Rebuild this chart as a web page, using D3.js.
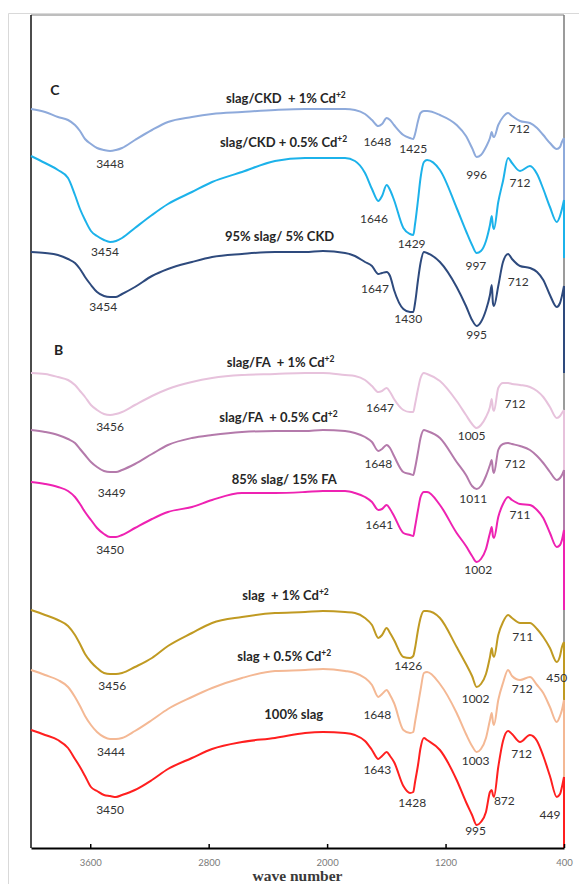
<!DOCTYPE html>
<html><head><meta charset="utf-8">
<script src="https://cdn.jsdelivr.net/npm/d3@7"></script>
<style>html,body{margin:0;padding:0;background:#fff;} svg{display:block;} text{white-space:pre;}</style>
</head><body>
<svg id="chart" width="579" height="884"></svg>
<script>
// ---- DATA (wavenumber grid, cm-1) ----
const waveNumbers = [4000,3905,3818,3750,3703,3669,3635,3595,3554,3507,
  3466,3426,3385,3298,3183,3075,2913,2777,2575,2352,
  2149,2028,1879,1812,1744,1697,1654,1629,1598,1575,
  1548,1485,1440,1418,1406,1386,1369,1346,1325,1238,
  1125,1062,1021,990,961,927,900,888,880,873,
  844,812,778,751,697,630,582,540,495,449,
  427,414,400];

// stacked transmittance (arbitrary units, offset per spectrum)
const slagCKD_1Cd = [739,736,731,728,723,717,709,704,700,698,
  697,698,700,708,718,726,731,734,736,738,
  739,739,739,738,734,728,722,724,730,728,
  723,713,710,709,714,727,735,737,737,733,
  723,712,700,691,693,701,710,716,712,711,
  723,731,735,732,727,725,720,713,705,699,
  701,706,710];
const slagCKD_05Cd = [692,685,678,670,653,639,628,617,612,608,
  606,607,610,620,633,644,656,666,676,687,
  690,690,690,687,675,659,647,652,663,658,
  648,620,614,613,624,648,670,686,688,678,
  640,617,603,595,597,607,623,632,622,619,
  646,667,690,685,677,682,674,659,641,626,
  632,639,648];
const slag95_CKD5 = [596,595,593,589,585,579,571,563,556,552,
  551,551,554,561,572,579,586,591,594,596,
  596,597,595,592,586,582,574,575,576,572,
  558,539,536,536,545,568,585,596,595,586,
  561,542,528,522,526,538,553,563,545,542,
  562,586,594,589,582,580,576,568,553,541,
  545,552,562];
const slagFA_1Cd = [475,474,471,468,463,457,451,443,438,434,
  433,434,436,443,452,459,466,470,473,474,
  475,475,473,472,468,462,456,457,460,456,
  449,438,436,436,444,459,470,475,474,467,
  447,433,424,420,423,431,441,449,439,437,
  460,465,465,464,463,461,457,451,441,430,
  432,435,438];
const slagFA_05Cd = [418,416,413,409,405,399,393,386,381,377,
  376,376,378,384,394,403,410,413,416,417,
  417,418,417,415,411,406,397,399,403,400,
  392,376,374,373,380,396,410,418,417,410,
  386,373,362,359,362,372,383,388,378,375,
  398,404,405,404,402,398,392,385,376,368,
  370,373,378];
const slag85_FA15 = [366,364,361,357,351,344,336,328,320,314,
  311,311,313,320,329,336,341,348,355,355,
  356,357,357,355,351,346,338,339,343,339,
  332,315,313,312,321,338,351,356,356,343,
  315,302,292,286,289,299,315,321,312,310,
  331,344,351,348,344,343,338,330,315,301,
  303,308,318];
const slag_1Cd = [238,233,228,222,213,204,194,186,180,175,
  174,174,175,181,190,202,215,225,231,235,
  236,237,236,235,230,223,210,213,220,215,
  208,191,190,192,200,218,230,237,237,230,
  201,184,172,161,164,174,191,200,193,191,
  213,226,233,230,225,225,219,211,200,186,
  192,201,206];
const slag_05Cd = [178,173,168,161,151,142,132,123,116,111,
  109,109,110,117,128,139,151,160,170,177,
  178,179,177,175,170,163,151,154,158,153,
  145,118,115,116,126,143,158,175,176,164,
  135,114,102,96,99,110,128,135,126,123,
  148,165,178,172,168,171,163,155,141,126,
  132,138,148];
const slag100 = [118,113,108,100,89,81,72,61,57,53,
  52,51,53,58,68,79,90,99,106,110,
  115,116,115,113,107,98,89,92,96,92,
  86,62,55,56,66,83,100,110,108,98,
  68,46,33,23,26,36,56,58,53,51,
  81,107,117,114,106,113,107,92,72,51,
  54,61,71];
// level each trace falls to at the 400 cm-1 end
const endDrop = [648, 590, 475, 378, 318, 238, 125, 71, 0];

const seriesNames = ["slag/CKD  + 1% Cd", "slag/CKD + 0.5% Cd", "95% slag/ 5% CKD",
  "slag/FA  + 1% Cd", "slag/FA  + 0.5% Cd", "85% slag/ 15% FA",
  "slag  + 1% Cd", "slag + 0.5% Cd", "100% slag"];
const seriesSup = ["+2", "+2", "", "+2", "+2", "", "+2", "+2", ""];
const seriesValues = [slagCKD_1Cd, slagCKD_05Cd, slag95_CKD5, slagFA_1Cd, slagFA_05Cd, slag85_FA15, slag_1Cd, slag_05Cd, slag100];
const seriesColors = ["#8eaadb", "#1cb2ea", "#2e4a7d", "#e7c2dc", "#b47aab", "#ee22b2", "#c09a22", "#f4b894", "#ff1f1f"];

// title anchor (wavenumber of left end, baseline level in a.u.)
const titleW = [2683, 2724, 2690, 2678, 2728, 2644, 2573, 2607, 2424];
const titleV = [745, 701, 607, 481, 426, 364, 248, 187, 129];

// peak annotations: [series index, label, wavenumber position, level]
const peakLabels = [
  [0,"3448",3466,684.7],[0,"1648",1661,706.3],[0,"1425",1418,699.7],[0,"996",990,673.7],[0,"712",702,719],
  [1,"3454",3500,596.3],[1,"1646",1683,629.7],[1,"1429",1429,604.7],[1,"997",995,582],[1,"712",697,665.7],
  [2,"3454",3512,541.3],[2,"1647",1677,559.7],[2,"1430",1452,529.7],[2,"995",990,513],[2,"712",709,566.3],
  [3,"3456",3466,421.3],[3,"1647",1643,440.7],[3,"1005",1024,412],[3,"712",731,444],
  [4,"3449",3455,355.3],[4,"1648",1654,384],[4,"1011",1013,349.7],[4,"712",731,384],
  [5,"3450",3466,298],[5,"1641",1648,323],[5,"1002",979,278],[5,"711",697,333],
  [6,"3456",3451,162],[6,"1426",1452,182],[6,"1002",997,149.7],[6,"711",679,211.3],[6,"450",449,170.7],
  [7,"3444",3460,96.3],[7,"1648",1661,133],[7,"1003",997,87.3],[7,"712",682,159.7],
  [8,"3450",3466,38],[8,"1643",1661,78],[8,"1428",1425,45.3],[8,"995",997,17.3],[8,"872",803,47.3],[8,"712",686,94.7],[8,"449",495,33]
];
const panelLetters = [["C",3838,758],["B",3813,498]];
const xTicks = [3600, 2800, 2000, 1200, 400];
const xTitle = "wave number";

seriesValues.forEach((s,i)=>{ if (s.length !== waveNumbers.length) throw new Error("length mismatch series "+i+": "+s.length); });

// ---- DRAW ----
const svg = d3.select("#chart");
const x = d3.scaleLinear().domain([4000, 400]).range([31, 564]);
const y = d3.scaleLinear().domain([0, 833]).range([848, 15]);

// outer frame
svg.append("path").attr("d","M8.5,884V13.5H579").attr("fill","none").attr("stroke","#d9d9d9").attr("stroke-width",1);
// plot border
svg.append("line").attr("x1",x(4000)).attr("x2",x(400)).attr("y1",y(833)).attr("y2",y(833)).attr("stroke","#7f7f7f").attr("stroke-width",1.2);
svg.append("line").attr("x1",x(400)).attr("x2",x(400)).attr("y1",y(833)).attr("y2",y(0)).attr("stroke","#7a7a7a").attr("stroke-width",1.5);
svg.append("line").attr("x1",x(4000)).attr("x2",x(4000)).attr("y1",y(833)).attr("y2",y(0)).attr("stroke","#111").attr("stroke-width",1.5);

// end drops along the right edge
svg.append("g").selectAll("line").data(seriesValues).join("line")
  .attr("x1",x(400)).attr("x2",x(400))
  .attr("y1",d=>y(d[d.length-1])).attr("y2",(d,i)=>y(endDrop[i]))
  .attr("stroke",(d,i)=>seriesColors[i]).attr("stroke-width",2);

// spectra
const line = d3.line().x((d,i)=>x(waveNumbers[i])).y(d=>y(d)).curve(d3.curveMonotoneX);
svg.append("g").selectAll("path").data(seriesValues).join("path")
  .attr("d", d=>line(d)).attr("fill","none")
  .attr("stroke",(d,i)=>seriesColors[i]).attr("stroke-width",2).attr("stroke-linejoin","round");

// axis
const axis = svg.append("g").attr("transform",`translate(0,${y(0)})`)
  .call(d3.axisBottom(x).tickValues(xTicks).tickSizeInner(-4).tickSizeOuter(0).tickPadding(11).tickFormat(d3.format("d")));
axis.select(".domain").attr("stroke","#000").attr("stroke-width",2.2);
axis.selectAll(".tick line").attr("stroke","#000").attr("stroke-width",1.5);
axis.selectAll(".tick text").attr("fill","#7a7a7a").style("font-family","Lato, 'DejaVu Sans', sans-serif").style("font-size","9.5px");

svg.append("text").attr("x",(x(4000)+x(400))/2).attr("y",881).attr("text-anchor","middle")
  .style("font-family","'Liberation Serif', serif").style("font-weight","bold").style("font-size","15.5px").attr("fill","#3a3a3a")
  .text(xTitle);

// titles
const tg = svg.append("g").style("font-family","Lato, sans-serif").style("font-weight","bold").style("font-size","13px").attr("fill","#262626");
seriesNames.forEach((n,i)=>{
  const t = tg.append("text").attr("x",x(titleW[i])).attr("y",y(titleV[i]));
  t.append("tspan").text(n);
  if (seriesSup[i]) t.append("tspan").attr("dy",-5).style("font-size","8.5px").text(seriesSup[i]);
});

// peak labels
svg.append("g").style("font-family","Lato, sans-serif").style("font-size","12px").attr("fill","#333")
  .selectAll("text").data(peakLabels).join("text")
  .attr("x",d=>x(d[2])).attr("y",d=>y(d[3])).attr("dy","0.36em").attr("text-anchor","middle").text(d=>d[1]);

// panel letters
svg.append("g").style("font-family","Lato, sans-serif").style("font-weight","bold").style("font-size","14px").attr("fill","#222")
  .selectAll("text").data(panelLetters).join("text")
  .attr("x",d=>x(d[1])).attr("y",d=>y(d[2])).attr("dy","0.36em").attr("text-anchor","middle").text(d=>d[0]);
</script>
</body></html>
